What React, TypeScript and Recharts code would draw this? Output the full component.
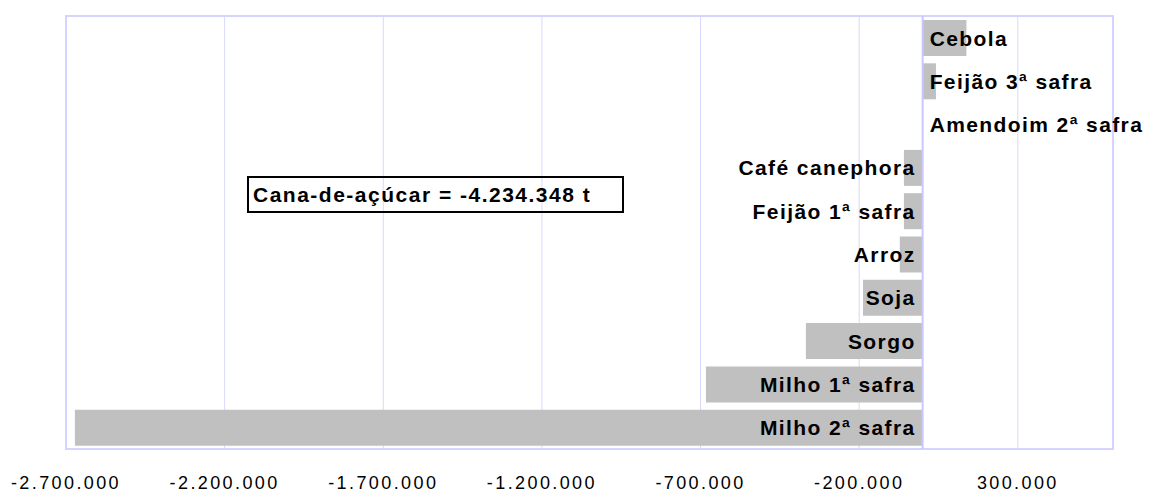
import React from 'react';
import { BarChart, Bar, XAxis, YAxis, CartesianGrid, ReferenceLine, ReferenceArea, LabelList } from 'recharts';

const culturas = [
  'Cebola',
  'Feijão 3ª safra',
  'Amendoim 2ª safra',
  'Café canephora',
  'Feijão 1ª safra',
  'Arroz',
  'Soja',
  'Sorgo',
  'Milho 1ª safra',
  'Milho 2ª safra',
];
const variacao = [138000, 42000, 1500, -59000, -59000, -72000, -188000, -368000, -683000, -2672000];
const xTicks = [-2700000, -2200000, -1700000, -1200000, -700000, -200000, 300000];
const xDomain = [-2700000, 600000];
const notaCana = 'Cana-de-açúcar = -4.234.348 t';

const data = culturas.map((nome, i) => ({ nome, valor: variacao[i] }));

const fmt = (v: number) => {
  const s = Math.abs(v).toString().replace(/\B(?=(\d{3})+(?!\d))/g, '.');
  return (v < 0 ? '-' : '') + s;
};

const FONT = '"Liberation Sans", Arial, sans-serif';

// rótulo ancorado no zero: à esquerda para negativos, à direita para positivos
const NomeLabel = (props: any) => {
  const { x, y, width, height, value, index } = props;
  const v = variacao[index];
  const x0 = v < 0 ? Math.max(x, x + width) : Math.min(x, x + width);
  const neg = v < 0;
  return (
    <text
      x={neg ? x0 - 7 : x0 + 7}
      y={y + height / 2}
      dy="0.36em"
      textAnchor={neg ? 'end' : 'start'}
      fontFamily={FONT}
      fontWeight="bold"
      fontSize={21}
      letterSpacing={1.4}
      fill="#000"
    >
      {value}
    </text>
  );
};

export default function App() {
  return (
    <div style={{ position: 'absolute', left: 0, top: 0, width: 1152, height: 492, background: '#fff' }}>
      <BarChart
        width={1152}
        height={492}
        data={data}
        layout="vertical"
        margin={{ top: 16, right: 39, bottom: 0, left: 66 }}
      >
        <CartesianGrid horizontal={false} stroke="#d8d8ff" />
        <XAxis
          type="number"
          dataKey="valor"
          domain={xDomain}
          ticks={xTicks}
          interval={0}
          allowDataOverflow
          tickFormatter={fmt}
          axisLine={false}
          tickLine={false}
          tickMargin={21}
          height={43}
          tick={{ fill: '#000', fontSize: 18, fontFamily: FONT, letterSpacing: 2.4 }}
        />
        <YAxis type="category" dataKey="nome" hide />
        <ReferenceArea x1={xDomain[0]} x2={xDomain[1]} stroke="#d4d4ff" strokeWidth={2} fill="none" fillOpacity={0} />
        <Bar dataKey="valor" fill="#c0c0c0" barSize={36} isAnimationActive={false}>
          <LabelList dataKey="nome" content={NomeLabel} />
        </Bar>
        <ReferenceLine x={0} stroke="#c8c8ff" strokeWidth={2} />
      </BarChart>
      <div
        style={{
          position: 'absolute',
          left: 247,
          top: 176,
          width: 377,
          height: 37,
          border: '2px solid #000',
          boxSizing: 'border-box',
          fontFamily: FONT,
          fontWeight: 'bold',
          fontSize: 21,
          letterSpacing: 1.5,
          lineHeight: '33px',
          paddingLeft: 4,
          whiteSpace: 'nowrap',
        }}
      >
        {notaCana}
      </div>
    </div>
  );
}
